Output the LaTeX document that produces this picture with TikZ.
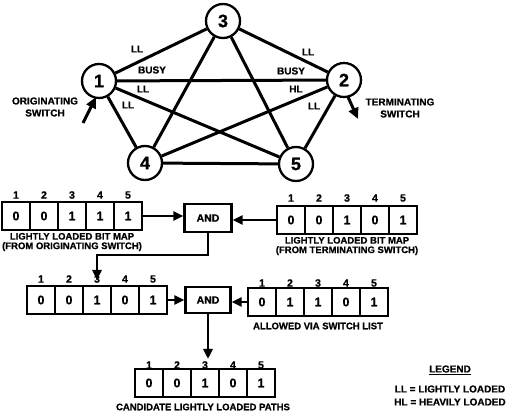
\documentclass[tikz,border=0pt]{standalone}
\usepackage{fontspec}
\setmainfont{Liberation Sans}[BoldFeatures={FakeBold=0.8}]
\usetikzlibrary{arrows.meta}
\begin{document}
\begin{tikzpicture}[x=1pt,y=-1pt,
  sw/.style={circle, draw, line width=2.3pt, minimum size=34pt, inner sep=0pt, font=\fontsize{18}{18}\selectfont\bfseries, fill=white},
  link/.style={line width=3pt},
  lbl/.style={font=\fontsize{10}{10}\selectfont\bfseries, inner sep=0pt},
  cell/.style={draw, line width=2.2pt, minimum width=28pt, minimum height=28pt, inner sep=0pt, font=\fontsize{12.5}{12.5}\selectfont\bfseries},
  idx/.style={font=\fontsize{10.5}{10.5}\selectfont\bfseries, inner sep=0pt},
  gate/.style={draw, line width=2.2pt, minimum width=47pt, minimum height=28pt, inner sep=0pt, font=\fontsize{10.5}{10.5}\selectfont\bfseries},
  captxt/.style={font=\fontsize{9.5}{9.5}\selectfont\bfseries, align=center, inner sep=0pt},
  arr/.style={line width=2.5pt, -{Triangle[length=10pt,width=9pt]}},
  fatarr/.style={line width=3pt, -{Triangle[length=11pt,width=10pt]}}
]
\useasboundingbox (0,0) rectangle (515,417);

% switches
\node[sw] (n3) at (223,21) {3};
\node[sw] (n1) at (99,81) {1};
\node[sw] (n2) at (344,80) {2};
\node[sw] (n4) at (145,163) {4};
\node[sw] (n5) at (296,164) {5};

\draw[link] (n1) -- (n3);
\draw[link] (n1) -- (n2);
\draw[link] (n1) -- (n4);
\draw[link] (n1) -- (n5);
\draw[link] (n2) -- (n3);
\draw[link] (n2) -- (n4);
\draw[link] (n2) -- (n5);
\draw[link] (n3) -- (n4);
\draw[link] (n3) -- (n5);
\draw[link] (n4) -- (n5);

\node[lbl] (l13) at (137,49) {LL};
\node[lbl] (b12) at (152,70) {BUSY};
\node[lbl] (l15) at (143,89) {LL};
\node[lbl] (l14) at (128,105) {LL};
\node[lbl] (l23) at (308,52) {LL};
\node[lbl] (b21) at (291,71) {BUSY};
\node[lbl] (h24) at (296,89) {HL};
\node[lbl] (l25) at (314,106) {LL};

\node[lbl, align=center] (orig) at (45,107) {ORIGINATING\\[2pt]SWITCH};
\node[lbl, align=center] (term) at (400,108) {TERMINATING\\[2pt]SWITCH};
\coordinate (ot) at (83,123);
\coordinate (oh) at (96,97);
\draw[fatarr] (ot) -- (oh);
\coordinate (tt) at (348,97);
\coordinate (th) at (358,119);
\draw[fatarr] (tt) -- (th);

% row 1 left
\foreach \v [count=\i] in {0,0,1,1,1} {
  \node[cell] (a\i) at ({16+(\i-1)*28},216) {\v};
  \node[idx] (ai\i) at ({16+(\i-1)*28},195) {\i};
}
\node[captxt] (acap) at (72,242) {LIGHTLY LOADED BIT MAP\\(FROM ORIGINATING SWITCH)};

% row 1 right
\foreach \v [count=\i] in {0,0,1,0,1} {
  \node[cell] (b\i) at ({291+(\i-1)*28},220) {\v};
  \node[idx] (bi\i) at ({291+(\i-1)*28},198) {\i};
}
\node[captxt] (bcap) at (347,246) {LIGHTLY LOADED BIT MAP\\(FROM TERMINATING SWITCH)};

\node[gate] (and1) at (208,218) {AND};
\draw[arr] (a5.east) -- (a5.east -| and1.west);
\draw[arr] (b1.west) -- (b1.west -| and1.east);

% row 2
\foreach \v [count=\i] in {0,0,1,0,1} {
  \node[cell] (c\i) at ({41+(\i-1)*28},300) {\v};
  \node[idx] (ci\i) at ({41+(\i-1)*28},279) {\i};
}
\coordinate (k1) at (97,255);
\coordinate (k2) at (97,280);
\draw[arr] (and1.south) |- (k1) -- (k2);

% row 3
\foreach \v [count=\i] in {0,1,1,0,1} {
  \node[cell] (d\i) at ({262+(\i-1)*28},302) {\v};
  \node[idx] (di\i) at ({262+(\i-1)*28},283) {\i};
}
\node[captxt] (dcap) at (318,326) {ALLOWED VIA SWITCH LIST};

\node[gate, minimum width=45pt, minimum height=26pt] (and2) at (208,300) {AND};
\draw[arr] (c5.east) -- (c5.east -| and2.west);
\draw[arr] (d1.west) -- (d1.west -| and2.east);

% row 4
\foreach \v [count=\i] in {0,0,1,0,1} {
  \node[cell] (e\i) at ({149+(\i-1)*28},383) {\v};
  \node[idx] (ei\i) at ({149+(\i-1)*28},365) {\i};
}
\node[captxt] (ecap) at (203,407) {CANDIDATE LIGHTLY LOADED PATHS};
\coordinate (k3) at (208,359);
\draw[arr] (and2.south) -- (k3);

% legend
\node[lbl] (leg) at (450,370) {\underline{LEGEND}};
\node[lbl] (leg1) at (450,389) {LL = LIGHTLY LOADED};
\node[lbl] (leg2) at (450,402) {HL = HEAVILY LOADED};
\end{tikzpicture}
\end{document}
